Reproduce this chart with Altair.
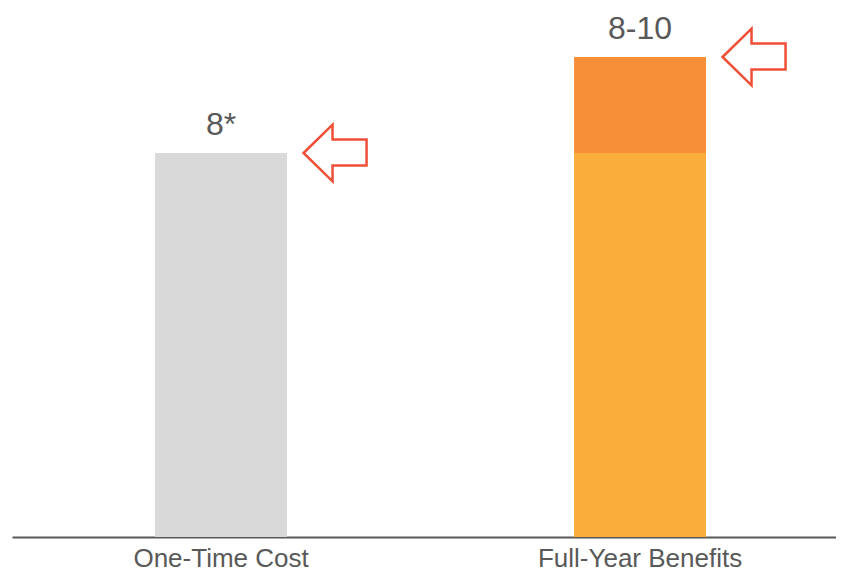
import altair as alt
import pandas as pd

# ---- data ----
bar_categories = ["One-Time Cost", "Full-Year Benefits", "Full-Year Benefits"]
bar_segments = ["cost", "base", "upside"]
bar_values = [8, 8, 2]
bar_order = [0, 0, 1]

label_categories = ["One-Time Cost", "Full-Year Benefits"]
label_texts = ["8*", "8-10"]
label_values = [8, 10]

category_order = ["One-Time Cost", "Full-Year Benefits"]
segment_domain = ["cost", "base", "upside"]
segment_colors = ["#D9D9D9", "#F9AE3B", "#F68F38"]

bars_df = pd.DataFrame({
    "category": bar_categories,
    "segment": bar_segments,
    "value": bar_values,
    "order": bar_order,
})
labels_df = pd.DataFrame({
    "category": label_categories,
    "text": label_texts,
    "value": label_values,
})

FONT = "Liberation Sans"
TEXT_COLOR = "#595959"

x_scale = alt.Scale(paddingInner=0.685, paddingOuter=0.3258, align=0.524)

x_enc = alt.X(
    "category:N",
    sort=category_order,
    scale=x_scale,
    axis=alt.Axis(
        title=None,
        labelAngle=0,
        ticks=False,
        domainColor=TEXT_COLOR,
        domainWidth=2,
        labelFontSize=26,
        labelColor=TEXT_COLOR,
        labelFont=FONT,
        labelPadding=8,
        labelLimit=0,
    ),
)
y_scale = alt.Scale(domain=[0, 11], nice=False, zero=True)

bars = alt.Chart(bars_df).mark_bar().encode(
    x=x_enc,
    y=alt.Y("value:Q", stack="zero", scale=y_scale, axis=None),
    color=alt.Color(
        "segment:N",
        scale=alt.Scale(domain=segment_domain, range=segment_colors),
        legend=None,
    ),
    order=alt.Order("order:Q"),
)

labels = alt.Chart(labels_df).mark_text(
    fontSize=32, font=FONT, color=TEXT_COLOR, dy=-18, baseline="alphabetic"
).encode(
    x=alt.X("category:N", sort=category_order),
    y=alt.Y("value:Q", scale=y_scale),
    text="text:N",
)

arrow_path = "M -1 0 L -0.08 -0.9 L -0.08 -0.43 L 1 -0.43 L 1 0.4 L -0.08 0.4 L -0.08 0.9 Z"
arrows = alt.Chart(labels_df).mark_point(
    shape=arrow_path,
    size=3969,
    filled=False,
    fill="white",
    fillOpacity=1,
    stroke="#EF4F37",
    strokeWidth=2.5,
    opacity=1,
    xOffset=114,
).encode(
    x=alt.X("category:N", sort=category_order),
    y=alt.Y("value:Q", scale=y_scale),
)

chart = alt.layer(bars, labels, arrows).properties(
    width=824,
    height=528,
    padding={"left": 4, "top": 1, "right": 0, "bottom": 35},
    autosize=alt.AutoSizeParams(type="none"),
).configure_view(strokeWidth=0)

chart.save("out.html", embed_options={"renderer": "svg", "actions": False})
